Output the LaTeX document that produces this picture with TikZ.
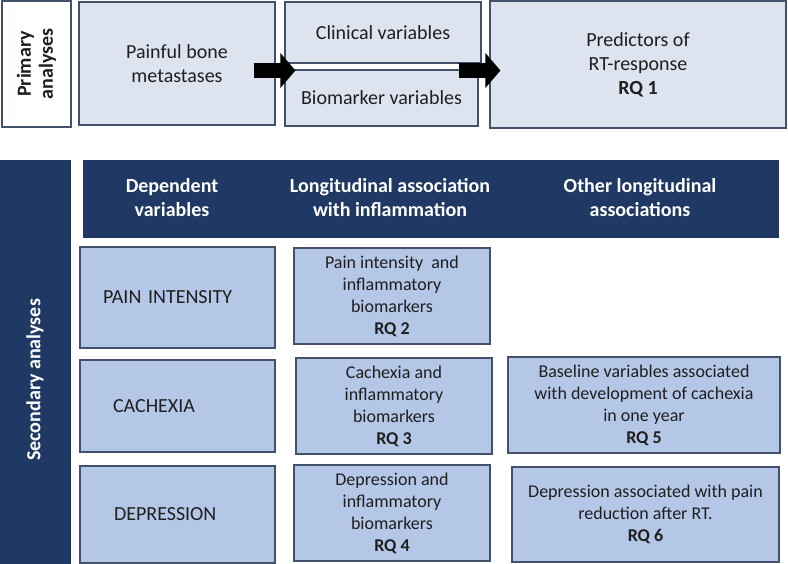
\documentclass[tikz,border=0pt]{standalone}
\usepackage{fontspec}
\setmainfont{Carlito}
\usetikzlibrary{arrows.meta}
\definecolor{navy}{HTML}{203864}
\definecolor{paleblue}{HTML}{DDE3EF}
\definecolor{lightblue}{HTML}{B4C7E7}
\definecolor{edge}{HTML}{44516B}

\begin{document}
\begin{tikzpicture}[x=1pt,y=-1pt,
  box/.style={draw=edge,line width=1.1pt,rectangle,inner sep=2pt,align=center,text=black!88},
  topbox/.style={box,fill=paleblue,font=\fontsize{20}{24}\selectfont},
  depbox/.style={box,fill=lightblue,align=left,minimum width=195pt,font=\fontsize{20}{24}\selectfont},
  rqbox/.style={box,fill=lightblue,font=\fontsize{18}{22}\selectfont},
  bar/.style={rectangle,fill=navy,draw=navy},
  head/.style={text=white,align=center,font=\fontsize{20}{24}\selectfont\bfseries},
  bigarrow/.style={line width=15pt,-{Triangle[length=15pt,width=34pt]}}]
\useasboundingbox (0,0) rectangle (788,564);

% primary analyses
\node[box,fill=white,rotate=90,minimum width=126pt,minimum height=69pt,
  font=\fontsize{20}{22}\selectfont\bfseries] (primary) at (36.5,64) {Primary\\analyses};
\node[topbox,minimum width=196pt,minimum height=123pt] (painful) at (177,63.5) {Painful bone\\metastases};
\node[topbox,minimum width=196pt,minimum height=61pt] (clinical) at (383,32.5) {Clinical variables};
\node[topbox,minimum width=193pt,minimum height=56pt] (biomarker) at (381.5,98) {Biomarker variables};
\node[topbox,minimum width=296pt,minimum height=127pt] (predictors) at (638,64.5) {Predictors of\\RT-response\\\textbf{RQ 1}};

\coordinate (mid) at (0,70.5);
\draw[bigarrow] ([xshift=-22pt]painful.east |- mid) -- ([xshift=11pt]clinical.west |- mid);
\draw[bigarrow] ([xshift=-20pt]biomarker.east |- mid) -- ([xshift=11pt]predictors.west |- mid);

% secondary analyses
\node[bar,minimum width=70pt,minimum height=404pt] (secbar) at (35,362) {};
\node[head,rotate=90] (sectext) at ([yshift=-18pt]secbar.center) {Secondary analyses};
\node[bar,minimum width=695pt,minimum height=77pt] (header) at (430.5,198.5) {};
\node[head] (hdep) at (172,198) {Dependent\\variables};
\node[head] (hinf) at (390,198) {Longitudinal association\\with inflammation};
\node[head] (hoth) at (640,198) {Other longitudinal\\associations};

\node[depbox,minimum height=101pt,text width=149pt] (pain) at (177.5,297.5) {PAIN INTENSITY};
\node[depbox,minimum height=92pt,text width=129pt] (cachexia) at (177.5,406) {CACHEXIA};
\node[depbox,minimum height=97pt,text width=127pt] (depression) at (177.5,514.5) {DEPRESSION};

\node[rqbox,minimum width=196pt,minimum height=96pt] (rq2) at (392,296) {Pain intensity\ \ and\\inflammatory\\biomarkers\\\textbf{RQ 2}};
\node[rqbox,minimum width=196pt,minimum height=96pt] (rq3) at (394,406) {Cachexia and\\inflammatory\\biomarkers\\\textbf{RQ 3}};
\node[rqbox,minimum width=196pt,minimum height=96pt] (rq4) at (392,513) {Depression and\\inflammatory\\biomarkers\\\textbf{RQ 4}};
\node[rqbox,minimum width=272pt,minimum height=96pt] (rq5) at (644,405) {Baseline variables associated\\with development of cachexia\\in one year\\\textbf{RQ 5}};
\node[rqbox,minimum width=267pt,minimum height=95pt] (rq6) at (645.5,514.5) {Depression associated with pain\\reduction after RT.\\\textbf{RQ 6}};
\end{tikzpicture}
\end{document}
